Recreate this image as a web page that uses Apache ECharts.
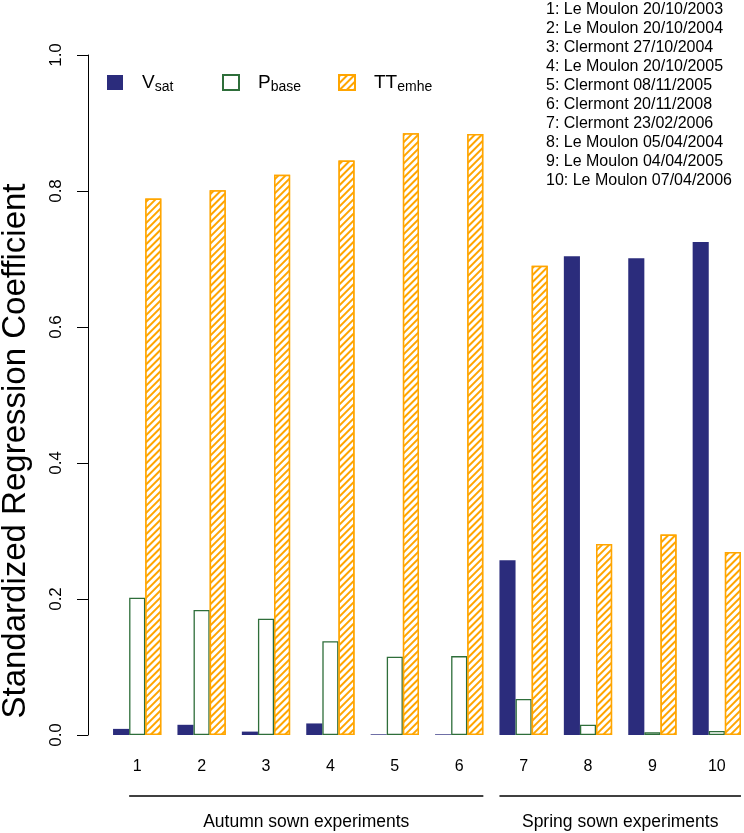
<!DOCTYPE html>
<html>
<head>
<meta charset="utf-8">
<script src="https://cdn.jsdelivr.net/npm/echarts@6/dist/echarts.min.js"></script>
<style>
html,body{margin:0;padding:0;background:#fff;overflow:hidden;}
#chart{width:760px;height:833px;}
</style>
</head>
<body>
<div id="chart"></div>
<script>
// ---- data ----
var categories = ['1','2','3','4','5','6','7','8','9','10'];
var vsat   = [0.009, 0.015, 0.005, 0.017, 0.001, 0.001, 0.257, 0.704, 0.701, 0.725];
var pbase  = [0.202, 0.184, 0.171, 0.138, 0.115, 0.116, 0.053, 0.015, 0.004, 0.006];
var ttemhe = [0.789, 0.801, 0.824, 0.845, 0.885, 0.884, 0.690, 0.281, 0.295, 0.269];
var yTicks = [0.0, 0.2, 0.4, 0.6, 0.8, 1.0];
var siteLabels = ['1: Le Moulon 20/10/2003','2: Le Moulon 20/10/2004','3: Clermont 27/10/2004',
  '4: Le Moulon 20/10/2005','5: Clermont 08/11/2005','6: Clermont 20/11/2008','7: Clermont 23/02/2006',
  '8: Le Moulon 05/04/2004','9: Le Moulon 04/04/2005','10: Le Moulon 07/04/2006'];
var groupNames = ['Autumn sown experiments', 'Spring sown experiments'];
var groupRanges = [[1, 6], [7, 10]]; // category numbers covered by each group
var yTitle = 'Standardized Regression Coefficient';

var FONT = 'Liberation Sans, Arial, Helvetica, sans-serif';
var NAVY = '#2B2C7C', GREEN = '#2E6E3A', ORANGE = '#FFA500';

var chart = echarts.init(document.getElementById('chart'), null, {renderer: 'canvas'});

function legendFor(name, left) {
  return {
    data: [{name: name, icon: 'rect'}], left: left, top: 73, itemWidth: 16, itemHeight: 15,
    padding: 0, selectedMode: false,
    formatter: function (n) {
      if (n === 'Vsat') return '{b|V}{s|sat}';
      if (n === 'Pbase') return '{b|P}{s|base}';
      return '{b|TT}{s|emhe}';
    },
    textStyle: {
      fontFamily: FONT, color: '#000', padding: [0, 0, 0, 14],
      rich: {
        b: {fontSize: 19, fontFamily: FONT, color: '#000'},
        s: {fontSize: 14, fontFamily: FONT, color: '#000', padding: [10, 0, 0, 0]}
      }
    }
  };
}

var BW = 16.1;
var option = {
  animation: false,
  backgroundColor: '#fff',
  title: {
    text: siteLabels.join('\n'), left: 546, top: 0, padding: 0,
    textStyle: {fontFamily: FONT, fontSize: 16, fontWeight: 'normal', color: '#000', lineHeight: 19}
  },
  legend: [legendFor('Vsat', 107), legendFor('Pbase', 222), legendFor('TTemhe', 338)],
  grid: {left: 105, width: 644, top: 55, bottom: 98, containLabel: false},
  xAxis: {
    type: 'category', data: categories,
    axisLine: {show: false}, axisTick: {show: false},
    axisLabel: {fontFamily: FONT, fontSize: 16, color: '#000', margin: 24}
  },
  yAxis: {
    type: 'value', min: 0, max: 1, interval: 0.2, offset: 17,
    splitLine: {show: false},
    axisLine: {show: true, lineStyle: {color: '#000', width: 1}},
    axisTick: {show: true, length: 11, lineStyle: {color: '#000'}},
    axisLabel: {fontFamily: FONT, fontSize: 17, color: '#000', rotate: 90, margin: 23,
      formatter: function (v) { return v.toFixed(1); }}
  },
  series: [
    {name: 'Vsat', type: 'bar', data: vsat, barWidth: BW, barGap: '0%',
      itemStyle: {color: NAVY}},
    {name: 'Pbase', type: 'bar', data: pbase, barWidth: BW, barGap: '0%',
      itemStyle: {color: '#fff', borderColor: GREEN, borderWidth: 1.3}},
    {name: 'TTemhe', type: 'bar', data: ttemhe, barWidth: BW, barGap: '0%',
      itemStyle: {color: '#fff', borderColor: ORANGE, borderWidth: 1.5,
        decal: {symbol: 'rect', color: ORANGE, backgroundColor: '#fff',
          dashArrayX: [1, 0], dashArrayY: [1.2, 2.6], rotation: -Math.PI / 4, symbolSize: 1}}}
  ]
};
chart.setOption(option);

// group brackets under the axis, positioned from the category scale
function px(i) { return chart.convertToPixel({xAxisIndex: 0}, i); }
var gfx = [];
groupRanges.forEach(function (r, gi) {
  var a = px(r[0] - 1), b = px(r[1] - 1);
  var x1 = gi === 0 ? a - 0.5 * BW : a - 1.5 * BW;
  var x2 = b + 1.5 * BW;
  gfx.push({type: 'line', shape: {x1: x1, y1: 796, x2: x2, y2: 796}, style: {stroke: '#000', lineWidth: 1.3}});
  gfx.push({type: 'text', x: (x1 + x2) / 2, y: 822,
    style: {text: groupNames[gi], fill: '#000', font: '17.5px ' + FONT, textAlign: 'center', textVerticalAlign: 'middle'}});
});
gfx.push({type: 'text', x: 16, y: 451, rotation: Math.PI / 2,
  style: {text: yTitle, fill: '#000', font: '33px ' + FONT, textAlign: 'center', textVerticalAlign: 'middle'}});
chart.setOption({graphic: gfx});
</script>
</body>
</html>
